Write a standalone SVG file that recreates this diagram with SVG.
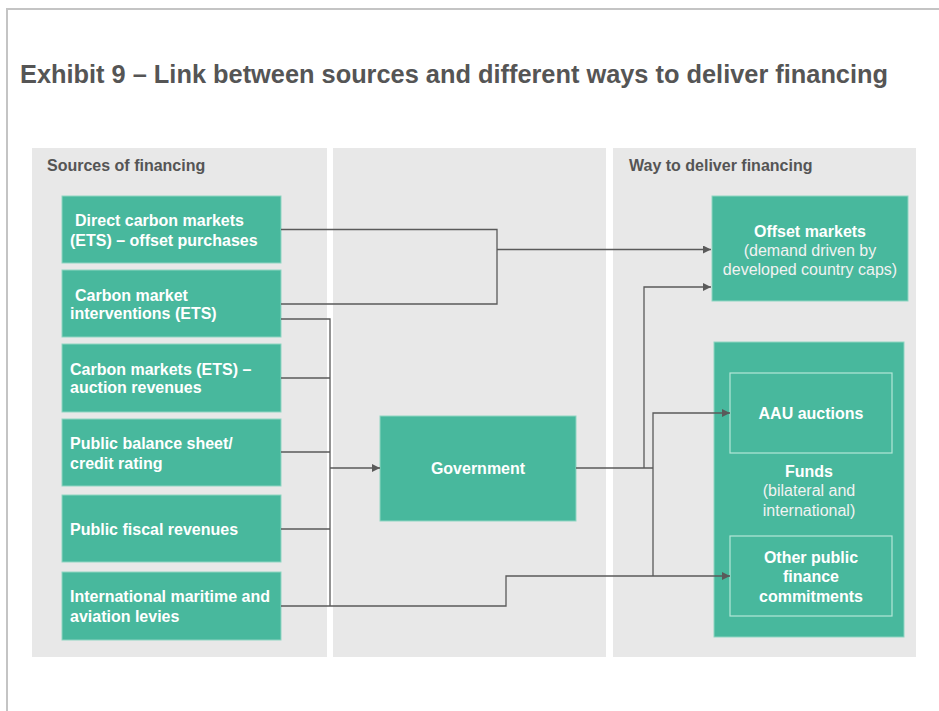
<svg xmlns="http://www.w3.org/2000/svg" width="939" height="711" viewBox="0 0 939 711">
  <style>
    .frame { fill: none; stroke: #c4c4c4; stroke-width: 2; }
    .panel { fill: #e8e8e8; }
    .box { fill: #48b89d; stroke: #8fd5c2; stroke-width: 1; }
    .inner { fill: #48b89d; stroke: #b5e6d8; stroke-width: 1.2; }
    .title { font-family: "Liberation Sans", Arial, sans-serif; font-weight: bold; font-size: 25px; fill: #555555; }
    .head { font-family: "Liberation Sans", Arial, sans-serif; font-weight: bold; font-size: 16px; fill: #555555; }
    .lbl { font-family: "Liberation Sans", Arial, sans-serif; font-weight: bold; font-size: 16px; fill: #ffffff; }
    .sub { font-family: "Liberation Sans", Arial, sans-serif; font-size: 16px; fill: #f2f2f2; }
    .mid { text-anchor: middle; }
    .link { fill: none; stroke: #5a5a5a; stroke-width: 1.3; }
  </style>
  <defs>
    <marker id="arrow" viewBox="0 0 10 10" refX="10" refY="5" markerWidth="8" markerHeight="8" markerUnits="userSpaceOnUse" orient="auto">
      <path d="M0,0 L10,5 L0,10 z" fill="#5a5a5a"/>
    </marker>
  </defs>

  <rect width="939" height="711" fill="#ffffff"/>
  <!-- outer frame: top and left edges -->
  <path class="frame" d="M7,711 V9 H939"/>

  <text class="title" x="20" y="83" textLength="868" lengthAdjust="spacingAndGlyphs">Exhibit 9 – Link between sources and different ways to deliver financing</text>

  <!-- column panels -->
  <g id="panels">
    <rect class="panel" x="32" y="148" width="295" height="509"/>
    <rect class="panel" x="333" y="148" width="273" height="509"/>
    <rect class="panel" x="613" y="148" width="303" height="509"/>
    <text class="head" x="47" y="171">Sources of financing</text>
    <text class="head" x="629" y="171">Way to deliver financing</text>
  </g>

  <!-- sources -->
  <g id="src-direct">
    <rect class="box" x="62" y="196" width="219" height="67"/>
    <text class="lbl" x="75" y="226">Direct carbon markets</text>
    <text class="lbl" x="70" y="246">(ETS) – offset purchases</text>
  </g>
  <g id="src-interventions">
    <rect class="box" x="62" y="270" width="219" height="67"/>
    <text class="lbl" x="75" y="300.5">Carbon market</text>
    <text class="lbl" x="70" y="319">interventions (ETS)</text>
  </g>
  <g id="src-auction">
    <rect class="box" x="62" y="344" width="219" height="68"/>
    <text class="lbl" x="70" y="375">Carbon markets (ETS) –</text>
    <text class="lbl" x="70" y="393">auction revenues</text>
  </g>
  <g id="src-balance">
    <rect class="box" x="62" y="419" width="219" height="67"/>
    <text class="lbl" x="70" y="449">Public balance sheet/</text>
    <text class="lbl" x="70" y="469">credit rating</text>
  </g>
  <g id="src-fiscal">
    <rect class="box" x="62" y="495" width="219" height="67"/>
    <text class="lbl" x="70" y="535">Public fiscal revenues</text>
  </g>
  <g id="src-levies">
    <rect class="box" x="62" y="572" width="219" height="68"/>
    <text class="lbl" x="70" y="602">International maritime and</text>
    <text class="lbl" x="70" y="622">aviation levies</text>
  </g>

  <!-- government -->
  <g id="government">
    <rect class="box" x="380" y="416" width="196" height="105"/>
    <text class="lbl mid" x="478" y="474">Government</text>
  </g>

  <!-- delivery channels -->
  <g id="offset-markets">
    <rect class="box" x="712" y="196" width="196" height="105"/>
    <text class="lbl mid" x="810" y="236.5">Offset markets</text>
    <text class="sub mid" x="810" y="256">(demand driven by</text>
    <text class="sub mid" x="810" y="275">developed country caps)</text>
  </g>
  <g id="funds">
    <rect class="box" x="714" y="342" width="190" height="295"/>
    <text class="lbl mid" x="809" y="477">Funds</text>
    <text class="sub mid" x="809" y="496">(bilateral and</text>
    <text class="sub mid" x="809" y="516">international)</text>
  </g>
  <g id="aau-auctions">
    <rect class="inner" x="730" y="373" width="162" height="80"/>
    <text class="lbl mid" x="811" y="419">AAU auctions</text>
  </g>
  <g id="other-public">
    <rect class="inner" x="730" y="536" width="162" height="80"/>
    <text class="lbl mid" x="811" y="563">Other public</text>
    <text class="lbl mid" x="811" y="582">finance</text>
    <text class="lbl mid" x="811" y="602">commitments</text>
  </g>

  <!-- connectors, drawn above the boxes so arrows into Funds stay visible -->
  <g id="connectors">
    <path class="link" d="M281,229.5 H497 V304 H281"/>
    <path class="link" d="M497,249.5 H711" marker-end="url(#arrow)"/>
    <path class="link" d="M281,319 H330 V606"/>
    <path class="link" d="M281,378 H330"/>
    <path class="link" d="M281,452 H330"/>
    <path class="link" d="M281,529 H330"/>
    <path class="link" d="M330,468 H380" marker-end="url(#arrow)"/>
    <path class="link" d="M281,606 H506 V576 H653"/>
    <path class="link" d="M576,468 H653"/>
    <path class="link" d="M644,468 V287 H711" marker-end="url(#arrow)"/>
    <path class="link" d="M653,576 V413 H730" marker-end="url(#arrow)"/>
    <path class="link" d="M653,576 H730" marker-end="url(#arrow)"/>
  </g>
</svg>
